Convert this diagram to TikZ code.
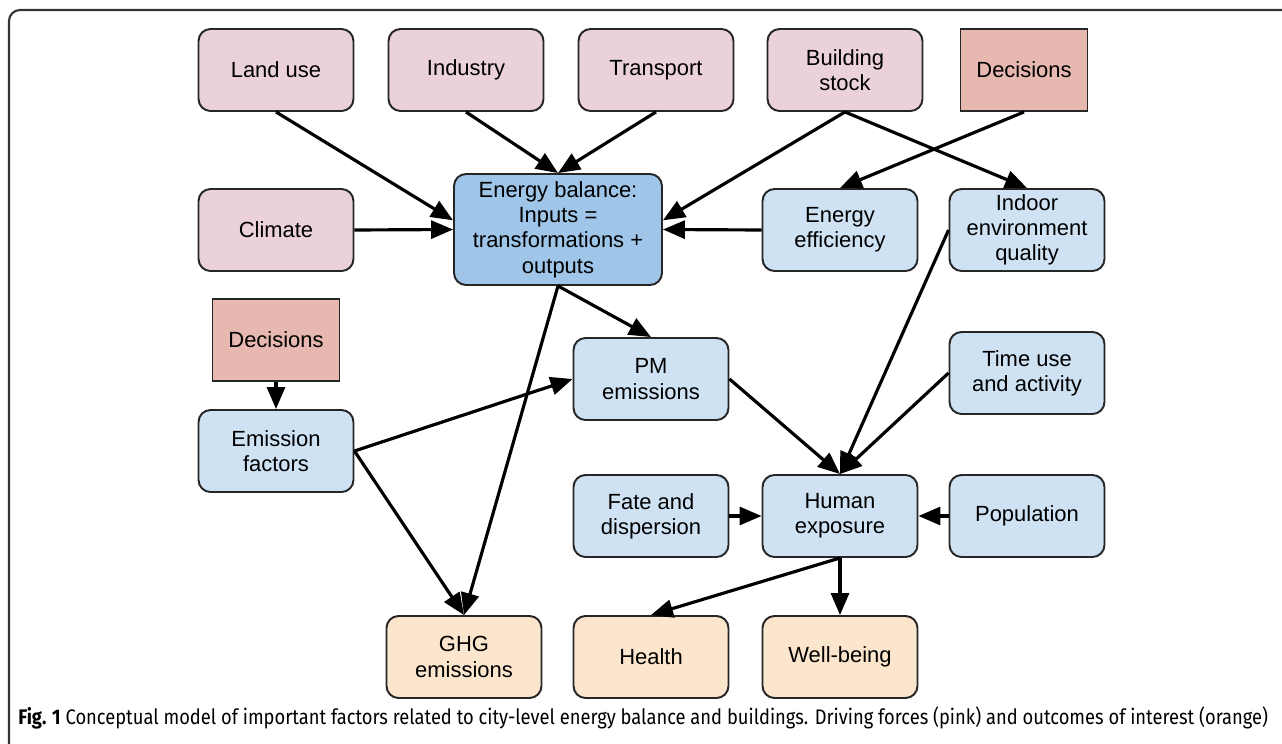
\documentclass[tikz,border=0pt]{standalone}
\usepackage{fontspec}
\usepackage{graphicx}
\setmainfont{Liberation Sans}
\newfontfamily\capfont{Fira Sans}
\usetikzlibrary{arrows.meta}

\definecolor{drivepink}{HTML}{EAD1DC}
\definecolor{decisionred}{HTML}{E6B8AF}
\definecolor{statblue}{HTML}{CFE2F3}
\definecolor{balanceblue}{HTML}{9FC5E8}
\definecolor{outorange}{HTML}{FCE5CD}

\tikzset{
  factorbox/.style={draw=black!85, line width=1.1pt, rounded corners=0.24cm,
    minimum width=3.1cm, minimum height=1.64cm, inner sep=0pt, align=center,
    font=\fontsize{12.5}{14.4}\selectfont},
  drivebox/.style={factorbox, fill=drivepink},
  statebox/.style={factorbox, fill=statblue},
  outbox/.style={factorbox, fill=outorange},
  decbox/.style={factorbox, rounded corners=0pt, fill=decisionred, minimum width=2.54cm},
  arr/.style={-{Triangle[length=0.44cm,width=0.36cm]}, line width=1.8pt},
}

\newsavebox\capbox
\sbox\capbox{\capfont\fontsize{12}{14}\selectfont\textbf{Fig. 1} Conceptual model of important factors related to city-level energy balance and buildings. Driving forces (pink) and outcomes of interest (orange)}

\begin{document}
\begin{tikzpicture}[x=0.02cm, y=-0.02cm]
    \useasboundingbox (0,0) rectangle (1282,744);
    \clip (0,0) rectangle (1282,744);
    % figure frame
    \draw[line width=1.2pt, black!80, rounded corners=0.22cm] (9,10) rectangle (1320,790);

    % driving forces
    \node[drivebox] (LU) at (276,70) {Land use};
    \node[drivebox] (IND) at (466,70) {Industry};
    \node[drivebox] (TRA) at (656,70) {Transport};
    \node[drivebox] (BS) at (845,70) {Building\\stock};
    \node[decbox] (DT) at (1024,70) {Decisions};
    \node[drivebox] (CL) at (276,230) {Climate};

    % energy balance and states
    \node[factorbox, fill=balanceblue, minimum width=4.16cm, minimum height=2.22cm] (EB) at (558,229.5) {Energy balance:\\Inputs =\\transformations +\\outputs};
    \node[statebox] (EE) at (840,230) {Energy\\efficiency};
    \node[statebox] (IEQ) at (1027,230) {Indoor\\environment\\quality};
    \node[decbox] (DL) at (276,340) {Decisions};
    \node[statebox] (PM) at (651,379) {PM\\emissions};
    \node[statebox] (TU) at (1027,373) {Time use\\and activity};
    \node[statebox] (EF) at (276,451) {Emission\\factors};
    \node[statebox] (FD) at (651,516) {Fate and\\dispersion};
    \node[statebox] (HE) at (840,516) {Human\\exposure};
    \node[statebox] (POP) at (1027,516) {Population};

    % outcomes
    \node[outbox] (GHG) at (464,657) {GHG\\emissions};
    \node[outbox] (HL) at (651,657) {Health};
    \node[outbox] (WB) at (840,657) {Well-being};

    % caption
    \node[anchor=base west, inner sep=0pt] (CAP) at (18,724) {\resizebox{25cm}{\height}{\usebox\capbox}};

    % connectors
    \draw[arr] (LU.south) -- (EB.175);
    \draw[arr] (CL.east) -- (EB.west);
    \foreach \s in {IND,TRA}
        \draw[arr] (\s.south) -- (EB.north);
    \draw[arr] (BS.south) -- (EB.5);
    \draw[arr] (EE.west) -- (EB.east);
    \draw[arr] (BS.south) -- (IEQ.north);
    \draw[arr] (DT.south) -- (EE.north);
    \draw[arr] (EB.south) -- (PM.north);
    \draw[arr] (EB.south) -- (GHG.north);
    \draw[arr] (DL.south) -- (EF.north);
    \draw[arr] (EF.east) -- (PM.west);
    \draw[arr] (EF.east) -- (GHG.north);
    \foreach \s in {PM.east,IEQ.west,TU.west}
        \draw[arr] (\s) -- (HE.north);
    \draw[arr] (FD.east) -- (HE.west);
    \draw[arr] (POP.west) -- (HE.east);
    \draw[arr] (HE.south) -- (HL.north);
    \draw[arr] (HE.south) -- (WB.north);
\end{tikzpicture}
\end{document}
